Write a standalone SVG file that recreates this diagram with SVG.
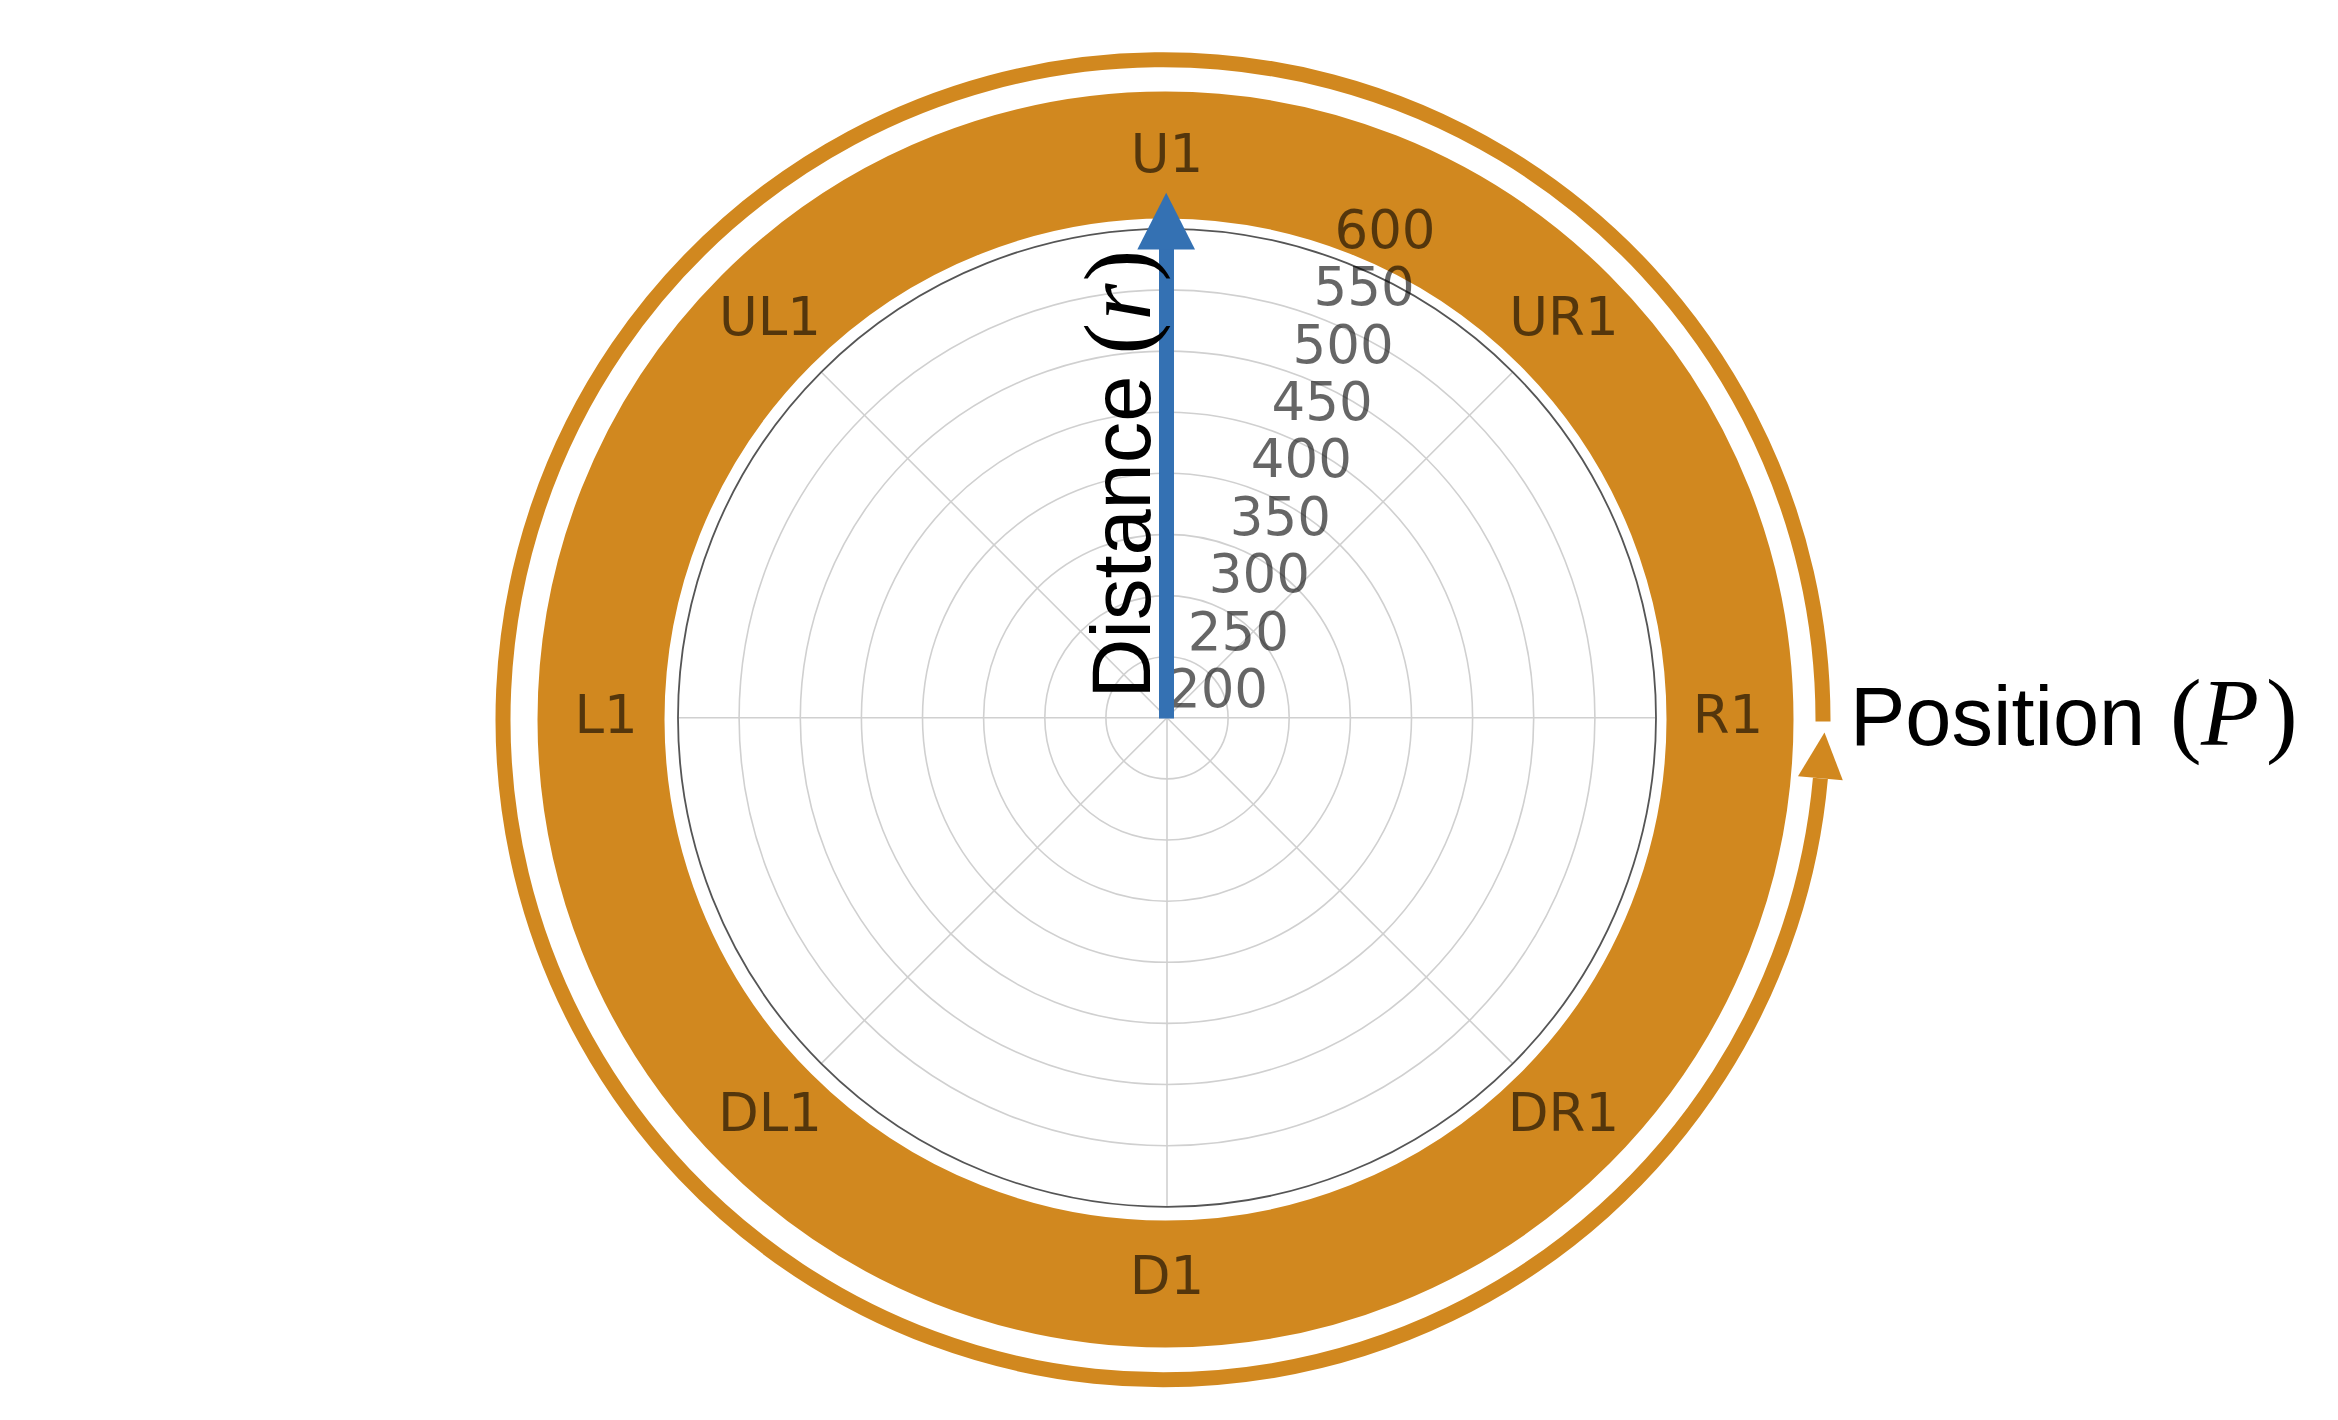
<svg xmlns="http://www.w3.org/2000/svg" width="2338" height="1420" viewBox="0 0 2338 1420">
<style>
.grid{fill:none;stroke:#d0d0d0;stroke-width:1.6}
.tick{font-family:"DejaVu Sans",sans-serif;font-size:53px;fill:#000;fill-opacity:0.6;text-anchor:middle}
.rtick{font-family:"DejaVu Sans",sans-serif;font-size:53px;fill:#000;fill-opacity:0.6;text-anchor:middle}
.lab{font-family:"Liberation Sans",Arial,sans-serif;font-size:83px;fill:#000}
.math{font-family:"Liberation Serif","Times New Roman",serif;font-size:95px}
</style>
<rect width="2338" height="1420" fill="#fff"/>
<g id="position-ring">
<path d="M 1820.4 778.3 A 660 660 0 1 1 1823 721.6" fill="none" stroke="#d1881f" stroke-width="15"/>
<polygon points="1824.5,732.5 1842.8,780.3 1798,776.3" fill="#d1881f"/>
</g>
<g id="band">
<circle cx="1165.5" cy="719.5" r="564.5" fill="none" stroke="#d1881f" stroke-width="127"/>
</g>
<g id="polar-grid">
<circle class="grid" cx="1167" cy="717.8" r="61.1"/>
<circle class="grid" cx="1167" cy="717.8" r="122.2"/>
<circle class="grid" cx="1167" cy="717.8" r="183.4"/>
<circle class="grid" cx="1167" cy="717.8" r="244.5"/>
<circle class="grid" cx="1167" cy="717.8" r="305.6"/>
<circle class="grid" cx="1167" cy="717.8" r="366.7"/>
<circle class="grid" cx="1167" cy="717.8" r="427.9"/>
<line class="grid" x1="1167" y1="717.8" x2="1656" y2="717.8"/>
<line class="grid" x1="1167" y1="717.8" x2="678" y2="717.8"/>
<line class="grid" x1="1167" y1="717.8" x2="1167" y2="228.8"/>
<line class="grid" x1="1167" y1="717.8" x2="1167" y2="1206.8"/>
<line class="grid" x1="1167" y1="717.8" x2="1512.8" y2="372"/>
<line class="grid" x1="1167" y1="717.8" x2="821.2" y2="372"/>
<line class="grid" x1="1167" y1="717.8" x2="1512.8" y2="1063.6"/>
<line class="grid" x1="1167" y1="717.8" x2="821.2" y2="1063.6"/>
<circle cx="1167" cy="717.8" r="489" fill="none" stroke="#555" stroke-width="1.8"/>
</g>
<g id="angle-labels">
<text class="tick" x="1167" y="172">U1</text>
<text class="tick" x="1564" y="335">UR1</text>
<text class="tick" x="1728" y="733">R1</text>
<text class="tick" x="1563.5" y="1131">DR1</text>
<text class="tick" x="1167" y="1294">D1</text>
<text class="tick" x="770" y="1131">DL1</text>
<text class="tick" x="606" y="733">L1</text>
<text class="tick" x="770" y="335">UL1</text>
</g>
<g id="radial-labels">
<text class="rtick" x="1217.5" y="707">200</text>
<text class="rtick" x="1238.4" y="649.6">250</text>
<text class="rtick" x="1259.4" y="592.2">300</text>
<text class="rtick" x="1280.3" y="534.8">350</text>
<text class="rtick" x="1301.3" y="477.4">400</text>
<text class="rtick" x="1322.2" y="420">450</text>
<text class="rtick" x="1343.1" y="362.6">500</text>
<text class="rtick" x="1364.1" y="305.2">550</text>
<text class="rtick" x="1385" y="247.8">600</text>
</g>
<g id="distance-arrow">
<rect x="1159" y="245" width="15" height="473.5" fill="#3471b3"/>
<polygon points="1166.2,192.7 1195,249.5 1137.3,249.5" fill="#3471b3"/>
</g>
<g id="distance-label" transform="translate(1150,698.5) rotate(-90)">
<text class="lab" x="0" y="0">Distance<tspan class="math" x="344">(</tspan><tspan class="math" x="378" font-style="italic">r</tspan><tspan class="math" x="417">)</tspan></text>
</g>
<g id="position-label">
<text class="lab" x="1850" y="745">Position<tspan class="math" x="2170">(</tspan><tspan class="math" x="2201" font-style="italic">P</tspan><tspan class="math" x="2266">)</tspan></text>
</g>
</svg>
